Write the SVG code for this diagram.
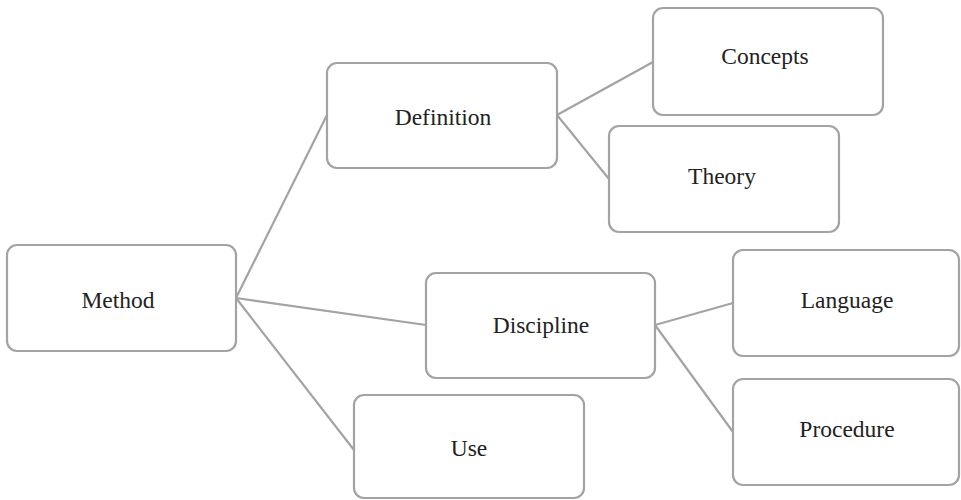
<svg xmlns="http://www.w3.org/2000/svg" width="961" height="500" viewBox="0 0 961 500">
<style>
.box{fill:#fff;stroke:#a3a3a3;stroke-width:2.2}
.lbl{font-family:'Liberation Serif','Times New Roman',serif;font-size:23.5px;fill:#222;text-anchor:middle}
.con{stroke:#a3a3a3;stroke-width:2.2;fill:none}
</style>
<rect width="961" height="500" fill="#fff"/>
<g id="connectors">
<line class="con" x1="236" y1="298" x2="327" y2="115"/>
<line class="con" x1="236" y1="298" x2="426" y2="325"/>
<line class="con" x1="236" y1="298" x2="354" y2="450"/>
<line class="con" x1="557" y1="115" x2="653" y2="62"/>
<line class="con" x1="557" y1="115" x2="609" y2="179"/>
<line class="con" x1="655" y1="325" x2="733" y2="303"/>
<line class="con" x1="655" y1="325" x2="733" y2="432"/>
</g>
<g id="method"><rect class="box" x="7" y="245" width="229" height="106" rx="10"/><text class="lbl" x="118" y="308">Method</text></g>
<g id="definition"><rect class="box" x="327" y="63" width="230" height="105" rx="10"/><text class="lbl" x="443" y="125">Definition</text></g>
<g id="concepts"><rect class="box" x="653" y="8" width="230" height="107" rx="10"/><text class="lbl" x="765" y="64">Concepts</text></g>
<g id="theory"><rect class="box" x="609" y="126" width="230" height="106" rx="10"/><text class="lbl" x="722" y="184">Theory</text></g>
<g id="discipline"><rect class="box" x="426" y="273" width="229" height="105" rx="10"/><text class="lbl" x="541" y="333">Discipline</text></g>
<g id="use"><rect class="box" x="354" y="395" width="230" height="103" rx="10"/><text class="lbl" x="469" y="456">Use</text></g>
<g id="language"><rect class="box" x="733" y="250" width="226" height="106" rx="10"/><text class="lbl" x="847" y="308">Language</text></g>
<g id="procedure"><rect class="box" x="733" y="379" width="226" height="106" rx="10"/><text class="lbl" x="847" y="437">Procedure</text></g>
</svg>
